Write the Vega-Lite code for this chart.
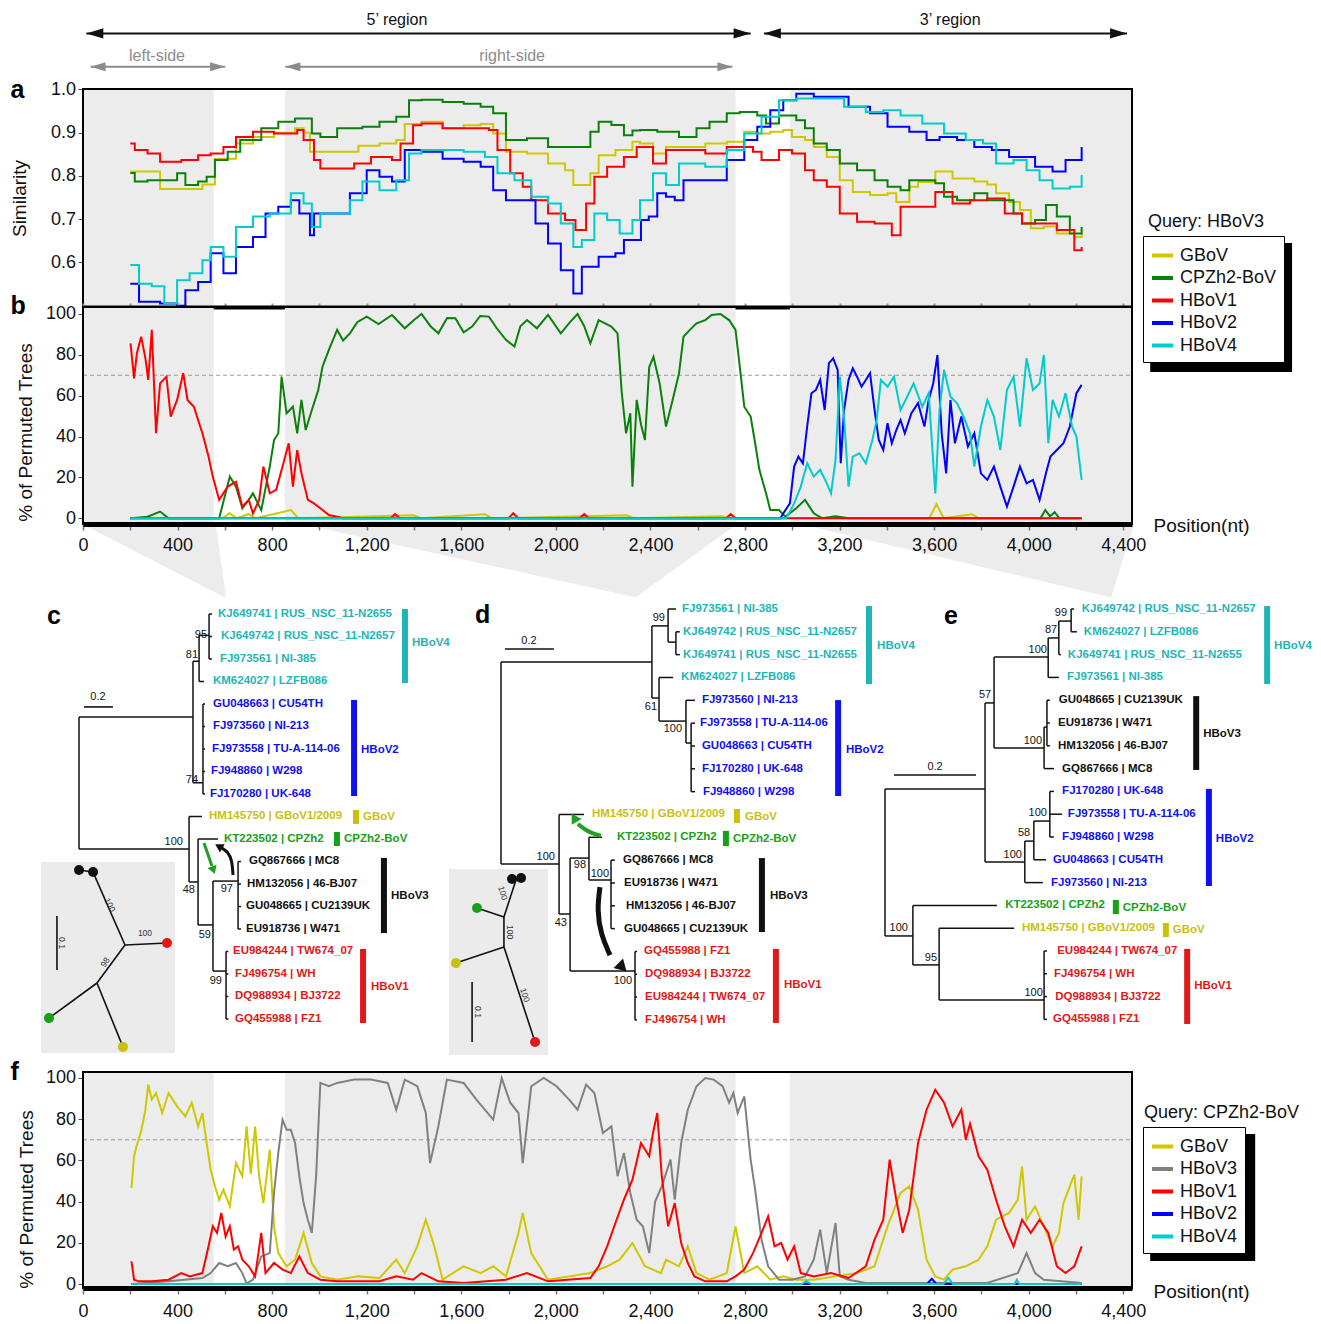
{
"$schema":"https://vega.github.io/schema/vega-lite/v6.json",
"padding":{"left":10,"top":0,"right":0,"bottom":0},
"background":"white",
"config":{"view":{"stroke":null},"font":"Liberation Sans",
 "axis":{"labelFont":"Liberation Sans","titleFont":"Liberation Sans","labelFontSize":18,"titleFontSize":19,"titleFontWeight":"normal","labelColor":"#111","titleColor":"#111","grid":false,"labelFlush":false,"labelOverlap":false,"labelBound":false},
 "legend":{"labelFont":"Liberation Sans"}},
"datasets":{
"bands":[{"p":0,"p2":553},{"p":854,"p2":2760},{"p":2990,"p2":4437}],
"frame":[{"p":0,"p2":4437}],
"minorA":[{"v":0.52},{"v":0.54},{"v":0.56},{"v":0.58},{"v":0.6},{"v":0.62},{"v":0.64},{"v":0.66},{"v":0.68},{"v":0.7},{"v":0.72},{"v":0.74},{"v":0.76},{"v":0.78},{"v":0.8},{"v":0.82},{"v":0.84},{"v":0.86},{"v":0.88},{"v":0.9},{"v":0.92},{"v":0.94},{"v":0.96},{"v":0.98},{"v":1.0}],
"minorP":[{"v":0},{"v":4},{"v":8},{"v":12},{"v":16},{"v":20},{"v":24},{"v":28},{"v":32},{"v":36},{"v":40},{"v":44},{"v":48},{"v":52},{"v":56},{"v":60},{"v":64},{"v":68},{"v":72},{"v":76},{"v":80},{"v":84},{"v":88},{"v":92},{"v":96},{"v":100}],
"sim":[
{"p":200,"s":"GBoV","v":0.81},{"p":326,"s":"GBoV","v":0.77},{"p":416,"s":"GBoV","v":0.77},{"p":505,"s":"GBoV","v":0.78},{"p":558,"s":"GBoV","v":0.84},{"p":647,"s":"GBoV","v":0.875},{"p":719,"s":"GBoV","v":0.89},{"p":808,"s":"GBoV","v":0.9},{"p":897,"s":"GBoV","v":0.91},{"p":933,"s":"GBoV","v":0.9},{"p":960,"s":"GBoV","v":0.856},{"p":1075,"s":"GBoV","v":0.856},{"p":1165,"s":"GBoV","v":0.87},{"p":1254,"s":"GBoV","v":0.875},{"p":1325,"s":"GBoV","v":0.883},{"p":1361,"s":"GBoV","v":0.92},{"p":1432,"s":"GBoV","v":0.925},{"p":1521,"s":"GBoV","v":0.91},{"p":1610,"s":"GBoV","v":0.917},{"p":1682,"s":"GBoV","v":0.92},{"p":1735,"s":"GBoV","v":0.898},{"p":1789,"s":"GBoV","v":0.856},{"p":1878,"s":"GBoV","v":0.852},{"p":1967,"s":"GBoV","v":0.829},{"p":2039,"s":"GBoV","v":0.813},{"p":2074,"s":"GBoV","v":0.779},{"p":2146,"s":"GBoV","v":0.806},{"p":2181,"s":"GBoV","v":0.848},{"p":2252,"s":"GBoV","v":0.86},{"p":2324,"s":"GBoV","v":0.879},{"p":2356,"s":"GBoV","v":0.875},{"p":2411,"s":"GBoV","v":0.852},{"p":2466,"s":"GBoV","v":0.867},{"p":2540,"s":"GBoV","v":0.867},{"p":2632,"s":"GBoV","v":0.875},{"p":2723,"s":"GBoV","v":0.879},{"p":2797,"s":"GBoV","v":0.902},{"p":2852,"s":"GBoV","v":0.898},{"p":2907,"s":"GBoV","v":0.902},{"p":2962,"s":"GBoV","v":0.906},{"p":2999,"s":"GBoV","v":0.89},{"p":3054,"s":"GBoV","v":0.883},{"p":3091,"s":"GBoV","v":0.867},{"p":3146,"s":"GBoV","v":0.844},{"p":3201,"s":"GBoV","v":0.79},{"p":3256,"s":"GBoV","v":0.763},{"p":3329,"s":"GBoV","v":0.756},{"p":3403,"s":"GBoV","v":0.76},{"p":3440,"s":"GBoV","v":0.74},{"p":3495,"s":"GBoV","v":0.775},{"p":3532,"s":"GBoV","v":0.786},{"p":3605,"s":"GBoV","v":0.81},{"p":3678,"s":"GBoV","v":0.794},{"p":3770,"s":"GBoV","v":0.787},{"p":3825,"s":"GBoV","v":0.78},{"p":3862,"s":"GBoV","v":0.76},{"p":3917,"s":"GBoV","v":0.74},{"p":3963,"s":"GBoV","v":0.721},{"p":4009,"s":"GBoV","v":0.679},{"p":4064,"s":"GBoV","v":0.683},{"p":4119,"s":"GBoV","v":0.667},{"p":4193,"s":"GBoV","v":0.659},{"p":4224,"s":"GBoV","v":0.667},
{"p":200,"s":"CPZh2-BoV","v":0.807},{"p":219,"s":"CPZh2-BoV","v":0.787},{"p":273,"s":"CPZh2-BoV","v":0.79},{"p":326,"s":"CPZh2-BoV","v":0.79},{"p":398,"s":"CPZh2-BoV","v":0.806},{"p":433,"s":"CPZh2-BoV","v":0.779},{"p":487,"s":"CPZh2-BoV","v":0.787},{"p":523,"s":"CPZh2-BoV","v":0.798},{"p":558,"s":"CPZh2-BoV","v":0.837},{"p":612,"s":"CPZh2-BoV","v":0.856},{"p":665,"s":"CPZh2-BoV","v":0.883},{"p":754,"s":"CPZh2-BoV","v":0.91},{"p":826,"s":"CPZh2-BoV","v":0.925},{"p":897,"s":"CPZh2-BoV","v":0.933},{"p":933,"s":"CPZh2-BoV","v":0.933},{"p":968,"s":"CPZh2-BoV","v":0.898},{"p":1004,"s":"CPZh2-BoV","v":0.89},{"p":1075,"s":"CPZh2-BoV","v":0.91},{"p":1182,"s":"CPZh2-BoV","v":0.914},{"p":1254,"s":"CPZh2-BoV","v":0.925},{"p":1325,"s":"CPZh2-BoV","v":0.937},{"p":1379,"s":"CPZh2-BoV","v":0.975},{"p":1432,"s":"CPZh2-BoV","v":0.976},{"p":1521,"s":"CPZh2-BoV","v":0.971},{"p":1610,"s":"CPZh2-BoV","v":0.967},{"p":1682,"s":"CPZh2-BoV","v":0.96},{"p":1735,"s":"CPZh2-BoV","v":0.945},{"p":1789,"s":"CPZh2-BoV","v":0.883},{"p":1878,"s":"CPZh2-BoV","v":0.887},{"p":1967,"s":"CPZh2-BoV","v":0.867},{"p":2092,"s":"CPZh2-BoV","v":0.867},{"p":2146,"s":"CPZh2-BoV","v":0.902},{"p":2181,"s":"CPZh2-BoV","v":0.925},{"p":2235,"s":"CPZh2-BoV","v":0.918},{"p":2288,"s":"CPZh2-BoV","v":0.894},{"p":2324,"s":"CPZh2-BoV","v":0.905},{"p":2356,"s":"CPZh2-BoV","v":0.906},{"p":2429,"s":"CPZh2-BoV","v":0.902},{"p":2521,"s":"CPZh2-BoV","v":0.89},{"p":2595,"s":"CPZh2-BoV","v":0.91},{"p":2650,"s":"CPZh2-BoV","v":0.925},{"p":2723,"s":"CPZh2-BoV","v":0.945},{"p":2778,"s":"CPZh2-BoV","v":0.948},{"p":2852,"s":"CPZh2-BoV","v":0.94},{"p":2889,"s":"CPZh2-BoV","v":0.921},{"p":2944,"s":"CPZh2-BoV","v":0.94},{"p":3017,"s":"CPZh2-BoV","v":0.929},{"p":3054,"s":"CPZh2-BoV","v":0.91},{"p":3091,"s":"CPZh2-BoV","v":0.875},{"p":3146,"s":"CPZh2-BoV","v":0.86},{"p":3201,"s":"CPZh2-BoV","v":0.829},{"p":3274,"s":"CPZh2-BoV","v":0.813},{"p":3348,"s":"CPZh2-BoV","v":0.79},{"p":3403,"s":"CPZh2-BoV","v":0.775},{"p":3458,"s":"CPZh2-BoV","v":0.767},{"p":3495,"s":"CPZh2-BoV","v":0.79},{"p":3550,"s":"CPZh2-BoV","v":0.79},{"p":3605,"s":"CPZh2-BoV","v":0.783},{"p":3642,"s":"CPZh2-BoV","v":0.752},{"p":3697,"s":"CPZh2-BoV","v":0.744},{"p":3770,"s":"CPZh2-BoV","v":0.76},{"p":3825,"s":"CPZh2-BoV","v":0.744},{"p":3880,"s":"CPZh2-BoV","v":0.744},{"p":3936,"s":"CPZh2-BoV","v":0.713},{"p":3972,"s":"CPZh2-BoV","v":0.69},{"p":4027,"s":"CPZh2-BoV","v":0.698},{"p":4073,"s":"CPZh2-BoV","v":0.733},{"p":4119,"s":"CPZh2-BoV","v":0.706},{"p":4174,"s":"CPZh2-BoV","v":0.667},{"p":4224,"s":"CPZh2-BoV","v":0.682},
{"p":200,"s":"HBoV1","v":0.875},{"p":219,"s":"HBoV1","v":0.86},{"p":273,"s":"HBoV1","v":0.852},{"p":326,"s":"HBoV1","v":0.833},{"p":416,"s":"HBoV1","v":0.837},{"p":487,"s":"HBoV1","v":0.848},{"p":540,"s":"HBoV1","v":0.852},{"p":594,"s":"HBoV1","v":0.867},{"p":647,"s":"HBoV1","v":0.89},{"p":719,"s":"HBoV1","v":0.902},{"p":808,"s":"HBoV1","v":0.898},{"p":906,"s":"HBoV1","v":0.906},{"p":933,"s":"HBoV1","v":0.883},{"p":977,"s":"HBoV1","v":0.837},{"p":1004,"s":"HBoV1","v":0.817},{"p":1075,"s":"HBoV1","v":0.817},{"p":1147,"s":"HBoV1","v":0.829},{"p":1218,"s":"HBoV1","v":0.844},{"p":1307,"s":"HBoV1","v":0.837},{"p":1343,"s":"HBoV1","v":0.875},{"p":1396,"s":"HBoV1","v":0.917},{"p":1432,"s":"HBoV1","v":0.921},{"p":1521,"s":"HBoV1","v":0.91},{"p":1610,"s":"HBoV1","v":0.91},{"p":1717,"s":"HBoV1","v":0.906},{"p":1753,"s":"HBoV1","v":0.86},{"p":1807,"s":"HBoV1","v":0.806},{"p":1860,"s":"HBoV1","v":0.775},{"p":1896,"s":"HBoV1","v":0.744},{"p":1967,"s":"HBoV1","v":0.713},{"p":2039,"s":"HBoV1","v":0.698},{"p":2083,"s":"HBoV1","v":0.675},{"p":2128,"s":"HBoV1","v":0.736},{"p":2163,"s":"HBoV1","v":0.798},{"p":2217,"s":"HBoV1","v":0.821},{"p":2288,"s":"HBoV1","v":0.844},{"p":2342,"s":"HBoV1","v":0.867},{"p":2411,"s":"HBoV1","v":0.829},{"p":2466,"s":"HBoV1","v":0.86},{"p":2540,"s":"HBoV1","v":0.86},{"p":2632,"s":"HBoV1","v":0.852},{"p":2723,"s":"HBoV1","v":0.867},{"p":2797,"s":"HBoV1","v":0.867},{"p":2834,"s":"HBoV1","v":0.856},{"p":2870,"s":"HBoV1","v":0.837},{"p":2944,"s":"HBoV1","v":0.86},{"p":2999,"s":"HBoV1","v":0.852},{"p":3054,"s":"HBoV1","v":0.813},{"p":3091,"s":"HBoV1","v":0.79},{"p":3146,"s":"HBoV1","v":0.775},{"p":3201,"s":"HBoV1","v":0.713},{"p":3274,"s":"HBoV1","v":0.694},{"p":3348,"s":"HBoV1","v":0.69},{"p":3421,"s":"HBoV1","v":0.663},{"p":3458,"s":"HBoV1","v":0.729},{"p":3532,"s":"HBoV1","v":0.729},{"p":3605,"s":"HBoV1","v":0.763},{"p":3678,"s":"HBoV1","v":0.736},{"p":3752,"s":"HBoV1","v":0.744},{"p":3825,"s":"HBoV1","v":0.748},{"p":3899,"s":"HBoV1","v":0.713},{"p":3972,"s":"HBoV1","v":0.69},{"p":4046,"s":"HBoV1","v":0.69},{"p":4119,"s":"HBoV1","v":0.675},{"p":4193,"s":"HBoV1","v":0.628},{"p":4224,"s":"HBoV1","v":0.636},
{"p":200,"s":"HBoV2","v":0.551},{"p":237,"s":"HBoV2","v":0.509},{"p":291,"s":"HBoV2","v":0.509},{"p":326,"s":"HBoV2","v":0.505},{"p":398,"s":"HBoV2","v":0.5},{"p":433,"s":"HBoV2","v":0.536},{"p":487,"s":"HBoV2","v":0.555},{"p":540,"s":"HBoV2","v":0.621},{"p":576,"s":"HBoV2","v":0.621},{"p":594,"s":"HBoV2","v":0.575},{"p":647,"s":"HBoV2","v":0.636},{"p":719,"s":"HBoV2","v":0.659},{"p":772,"s":"HBoV2","v":0.713},{"p":826,"s":"HBoV2","v":0.729},{"p":879,"s":"HBoV2","v":0.744},{"p":915,"s":"HBoV2","v":0.713},{"p":960,"s":"HBoV2","v":0.663},{"p":977,"s":"HBoV2","v":0.713},{"p":1040,"s":"HBoV2","v":0.713},{"p":1093,"s":"HBoV2","v":0.713},{"p":1129,"s":"HBoV2","v":0.76},{"p":1200,"s":"HBoV2","v":0.813},{"p":1254,"s":"HBoV2","v":0.798},{"p":1307,"s":"HBoV2","v":0.787},{"p":1361,"s":"HBoV2","v":0.86},{"p":1432,"s":"HBoV2","v":0.856},{"p":1521,"s":"HBoV2","v":0.84},{"p":1610,"s":"HBoV2","v":0.833},{"p":1682,"s":"HBoV2","v":0.821},{"p":1735,"s":"HBoV2","v":0.767},{"p":1789,"s":"HBoV2","v":0.744},{"p":1860,"s":"HBoV2","v":0.744},{"p":1914,"s":"HBoV2","v":0.69},{"p":1967,"s":"HBoV2","v":0.644},{"p":2021,"s":"HBoV2","v":0.582},{"p":2074,"s":"HBoV2","v":0.528},{"p":2110,"s":"HBoV2","v":0.59},{"p":2181,"s":"HBoV2","v":0.613},{"p":2252,"s":"HBoV2","v":0.621},{"p":2288,"s":"HBoV2","v":0.652},{"p":2360,"s":"HBoV2","v":0.698},{"p":2393,"s":"HBoV2","v":0.706},{"p":2429,"s":"HBoV2","v":0.76},{"p":2466,"s":"HBoV2","v":0.752},{"p":2503,"s":"HBoV2","v":0.744},{"p":2540,"s":"HBoV2","v":0.79},{"p":2632,"s":"HBoV2","v":0.79},{"p":2723,"s":"HBoV2","v":0.837},{"p":2797,"s":"HBoV2","v":0.883},{"p":2852,"s":"HBoV2","v":0.914},{"p":2907,"s":"HBoV2","v":0.952},{"p":2962,"s":"HBoV2","v":0.975},{"p":3017,"s":"HBoV2","v":0.99},{"p":3091,"s":"HBoV2","v":0.983},{"p":3183,"s":"HBoV2","v":0.983},{"p":3238,"s":"HBoV2","v":0.96},{"p":3329,"s":"HBoV2","v":0.945},{"p":3403,"s":"HBoV2","v":0.914},{"p":3495,"s":"HBoV2","v":0.902},{"p":3568,"s":"HBoV2","v":0.883},{"p":3623,"s":"HBoV2","v":0.89},{"p":3697,"s":"HBoV2","v":0.883},{"p":3770,"s":"HBoV2","v":0.867},{"p":3844,"s":"HBoV2","v":0.86},{"p":3917,"s":"HBoV2","v":0.844},{"p":3972,"s":"HBoV2","v":0.844},{"p":4027,"s":"HBoV2","v":0.821},{"p":4101,"s":"HBoV2","v":0.81},{"p":4156,"s":"HBoV2","v":0.837},{"p":4224,"s":"HBoV2","v":0.867},
{"p":200,"s":"HBoV4","v":0.594},{"p":237,"s":"HBoV4","v":0.551},{"p":291,"s":"HBoV4","v":0.545},{"p":344,"s":"HBoV4","v":0.505},{"p":398,"s":"HBoV4","v":0.559},{"p":451,"s":"HBoV4","v":0.575},{"p":505,"s":"HBoV4","v":0.605},{"p":540,"s":"HBoV4","v":0.636},{"p":594,"s":"HBoV4","v":0.613},{"p":647,"s":"HBoV4","v":0.682},{"p":719,"s":"HBoV4","v":0.706},{"p":790,"s":"HBoV4","v":0.713},{"p":879,"s":"HBoV4","v":0.76},{"p":933,"s":"HBoV4","v":0.736},{"p":968,"s":"HBoV4","v":0.682},{"p":1004,"s":"HBoV4","v":0.713},{"p":1075,"s":"HBoV4","v":0.713},{"p":1129,"s":"HBoV4","v":0.744},{"p":1182,"s":"HBoV4","v":0.787},{"p":1254,"s":"HBoV4","v":0.767},{"p":1325,"s":"HBoV4","v":0.79},{"p":1379,"s":"HBoV4","v":0.852},{"p":1432,"s":"HBoV4","v":0.86},{"p":1521,"s":"HBoV4","v":0.86},{"p":1610,"s":"HBoV4","v":0.856},{"p":1700,"s":"HBoV4","v":0.844},{"p":1753,"s":"HBoV4","v":0.806},{"p":1825,"s":"HBoV4","v":0.79},{"p":1896,"s":"HBoV4","v":0.752},{"p":1967,"s":"HBoV4","v":0.736},{"p":2021,"s":"HBoV4","v":0.69},{"p":2074,"s":"HBoV4","v":0.636},{"p":2110,"s":"HBoV4","v":0.652},{"p":2163,"s":"HBoV4","v":0.713},{"p":2217,"s":"HBoV4","v":0.698},{"p":2270,"s":"HBoV4","v":0.667},{"p":2324,"s":"HBoV4","v":0.698},{"p":2356,"s":"HBoV4","v":0.744},{"p":2411,"s":"HBoV4","v":0.806},{"p":2466,"s":"HBoV4","v":0.779},{"p":2521,"s":"HBoV4","v":0.829},{"p":2632,"s":"HBoV4","v":0.821},{"p":2723,"s":"HBoV4","v":0.86},{"p":2797,"s":"HBoV4","v":0.898},{"p":2870,"s":"HBoV4","v":0.937},{"p":2944,"s":"HBoV4","v":0.975},{"p":3017,"s":"HBoV4","v":0.979},{"p":3127,"s":"HBoV4","v":0.979},{"p":3219,"s":"HBoV4","v":0.96},{"p":3311,"s":"HBoV4","v":0.948},{"p":3385,"s":"HBoV4","v":0.952},{"p":3458,"s":"HBoV4","v":0.94},{"p":3550,"s":"HBoV4","v":0.921},{"p":3642,"s":"HBoV4","v":0.898},{"p":3734,"s":"HBoV4","v":0.883},{"p":3807,"s":"HBoV4","v":0.875},{"p":3862,"s":"HBoV4","v":0.829},{"p":3936,"s":"HBoV4","v":0.837},{"p":3991,"s":"HBoV4","v":0.813},{"p":4046,"s":"HBoV4","v":0.79},{"p":4101,"s":"HBoV4","v":0.771},{"p":4174,"s":"HBoV4","v":0.775},{"p":4224,"s":"HBoV4","v":0.802}],
"ptb":[
{"p":200,"s":"GBoV","v":0},{"p":590,"s":"GBoV","v":0},{"p":620,"s":"GBoV","v":2.5},{"p":650,"s":"GBoV","v":0},{"p":700,"s":"GBoV","v":2},{"p":730,"s":"GBoV","v":0},{"p":880,"s":"GBoV","v":4},{"p":910,"s":"GBoV","v":0},{"p":1400,"s":"GBoV","v":1.5},{"p":1430,"s":"GBoV","v":0},{"p":1700,"s":"GBoV","v":2},{"p":1730,"s":"GBoV","v":0},{"p":2300,"s":"GBoV","v":1.5},{"p":2330,"s":"GBoV","v":0},{"p":2700,"s":"GBoV","v":1},{"p":2730,"s":"GBoV","v":0},{"p":3580,"s":"GBoV","v":0},{"p":3610,"s":"GBoV","v":7},{"p":3640,"s":"GBoV","v":0},{"p":3760,"s":"GBoV","v":2},{"p":3790,"s":"GBoV","v":0},{"p":4224,"s":"GBoV","v":0},
{"p":201,"s":"CPZh2-BoV","v":0},{"p":273,"s":"CPZh2-BoV","v":0.8},{"p":326,"s":"CPZh2-BoV","v":3.3},{"p":362,"s":"CPZh2-BoV","v":0},{"p":576,"s":"CPZh2-BoV","v":0},{"p":621,"s":"CPZh2-BoV","v":20.4},{"p":647,"s":"CPZh2-BoV","v":15.5},{"p":674,"s":"CPZh2-BoV","v":4.9},{"p":701,"s":"CPZh2-BoV","v":9},{"p":719,"s":"CPZh2-BoV","v":12.2},{"p":754,"s":"CPZh2-BoV","v":4},{"p":790,"s":"CPZh2-BoV","v":25.3},{"p":808,"s":"CPZh2-BoV","v":38.3},{"p":826,"s":"CPZh2-BoV","v":41.6},{"p":840,"s":"CPZh2-BoV","v":69.3},{"p":861,"s":"CPZh2-BoV","v":51.4},{"p":888,"s":"CPZh2-BoV","v":54.6},{"p":906,"s":"CPZh2-BoV","v":41.6},{"p":924,"s":"CPZh2-BoV","v":57.9},{"p":942,"s":"CPZh2-BoV","v":43.2},{"p":968,"s":"CPZh2-BoV","v":53},{"p":995,"s":"CPZh2-BoV","v":62.8},{"p":1013,"s":"CPZh2-BoV","v":74.2},{"p":1040,"s":"CPZh2-BoV","v":82.4},{"p":1075,"s":"CPZh2-BoV","v":92.2},{"p":1100,"s":"CPZh2-BoV","v":87},{"p":1129,"s":"CPZh2-BoV","v":90.5},{"p":1160,"s":"CPZh2-BoV","v":96},{"p":1200,"s":"CPZh2-BoV","v":98.7},{"p":1250,"s":"CPZh2-BoV","v":95},{"p":1307,"s":"CPZh2-BoV","v":99.5},{"p":1361,"s":"CPZh2-BoV","v":93},{"p":1400,"s":"CPZh2-BoV","v":97},{"p":1432,"s":"CPZh2-BoV","v":100},{"p":1470,"s":"CPZh2-BoV","v":94},{"p":1503,"s":"CPZh2-BoV","v":90.5},{"p":1540,"s":"CPZh2-BoV","v":98},{"p":1575,"s":"CPZh2-BoV","v":97.9},{"p":1610,"s":"CPZh2-BoV","v":91},{"p":1646,"s":"CPZh2-BoV","v":93.8},{"p":1680,"s":"CPZh2-BoV","v":99},{"p":1717,"s":"CPZh2-BoV","v":98.7},{"p":1750,"s":"CPZh2-BoV","v":93},{"p":1789,"s":"CPZh2-BoV","v":87.3},{"p":1825,"s":"CPZh2-BoV","v":84},{"p":1850,"s":"CPZh2-BoV","v":94},{"p":1878,"s":"CPZh2-BoV","v":97},{"p":1920,"s":"CPZh2-BoV","v":93},{"p":1967,"s":"CPZh2-BoV","v":99.5},{"p":2021,"s":"CPZh2-BoV","v":90.5},{"p":2060,"s":"CPZh2-BoV","v":96},{"p":2092,"s":"CPZh2-BoV","v":100},{"p":2120,"s":"CPZh2-BoV","v":94},{"p":2146,"s":"CPZh2-BoV","v":85.6},{"p":2181,"s":"CPZh2-BoV","v":97},{"p":2235,"s":"CPZh2-BoV","v":93.8},{"p":2261,"s":"CPZh2-BoV","v":90.5},{"p":2279,"s":"CPZh2-BoV","v":61.2},{"p":2297,"s":"CPZh2-BoV","v":41.6},{"p":2315,"s":"CPZh2-BoV","v":51.4},{"p":2324,"s":"CPZh2-BoV","v":15.5},{"p":2342,"s":"CPZh2-BoV","v":57.9},{"p":2360,"s":"CPZh2-BoV","v":46},{"p":2377,"s":"CPZh2-BoV","v":38.3},{"p":2395,"s":"CPZh2-BoV","v":74},{"p":2413,"s":"CPZh2-BoV","v":79},{"p":2439,"s":"CPZh2-BoV","v":66},{"p":2466,"s":"CPZh2-BoV","v":44.9},{"p":2494,"s":"CPZh2-BoV","v":57.9},{"p":2521,"s":"CPZh2-BoV","v":71},{"p":2540,"s":"CPZh2-BoV","v":88.9},{"p":2567,"s":"CPZh2-BoV","v":92.2},{"p":2595,"s":"CPZh2-BoV","v":95.4},{"p":2632,"s":"CPZh2-BoV","v":97},{"p":2659,"s":"CPZh2-BoV","v":99.5},{"p":2696,"s":"CPZh2-BoV","v":100},{"p":2733,"s":"CPZh2-BoV","v":97},{"p":2760,"s":"CPZh2-BoV","v":92.2},{"p":2778,"s":"CPZh2-BoV","v":74.2},{"p":2797,"s":"CPZh2-BoV","v":54.6},{"p":2824,"s":"CPZh2-BoV","v":49.8},{"p":2843,"s":"CPZh2-BoV","v":36.7},{"p":2861,"s":"CPZh2-BoV","v":23.7},{"p":2889,"s":"CPZh2-BoV","v":12.2},{"p":2907,"s":"CPZh2-BoV","v":4},{"p":2944,"s":"CPZh2-BoV","v":4},{"p":2971,"s":"CPZh2-BoV","v":0.8},{"p":3017,"s":"CPZh2-BoV","v":4.9},{"p":3054,"s":"CPZh2-BoV","v":9},{"p":3091,"s":"CPZh2-BoV","v":2.4},{"p":3127,"s":"CPZh2-BoV","v":0},{"p":3183,"s":"CPZh2-BoV","v":1},{"p":3238,"s":"CPZh2-BoV","v":0},{"p":4050,"s":"CPZh2-BoV","v":0},{"p":4070,"s":"CPZh2-BoV","v":4},{"p":4090,"s":"CPZh2-BoV","v":1},{"p":4110,"s":"CPZh2-BoV","v":3},{"p":4130,"s":"CPZh2-BoV","v":0},{"p":4224,"s":"CPZh2-BoV","v":0},
{"p":201,"s":"HBoV1","v":85.6},{"p":216,"s":"HBoV1","v":68.5},{"p":228,"s":"HBoV1","v":80.8},{"p":246,"s":"HBoV1","v":88.9},{"p":264,"s":"HBoV1","v":78.3},{"p":276,"s":"HBoV1","v":67.7},{"p":291,"s":"HBoV1","v":92.2},{"p":309,"s":"HBoV1","v":41.6},{"p":326,"s":"HBoV1","v":66},{"p":353,"s":"HBoV1","v":69.3},{"p":371,"s":"HBoV1","v":49.8},{"p":398,"s":"HBoV1","v":57.9},{"p":424,"s":"HBoV1","v":71},{"p":442,"s":"HBoV1","v":57.9},{"p":469,"s":"HBoV1","v":54.6},{"p":505,"s":"HBoV1","v":41.6},{"p":531,"s":"HBoV1","v":30.2},{"p":549,"s":"HBoV1","v":20.4},{"p":576,"s":"HBoV1","v":9},{"p":612,"s":"HBoV1","v":15.5},{"p":647,"s":"HBoV1","v":17.9},{"p":674,"s":"HBoV1","v":5.7},{"p":701,"s":"HBoV1","v":9},{"p":719,"s":"HBoV1","v":2.4},{"p":745,"s":"HBoV1","v":9},{"p":763,"s":"HBoV1","v":25.3},{"p":790,"s":"HBoV1","v":12.2},{"p":817,"s":"HBoV1","v":13.9},{"p":844,"s":"HBoV1","v":25.3},{"p":870,"s":"HBoV1","v":36.7},{"p":888,"s":"HBoV1","v":15.5},{"p":906,"s":"HBoV1","v":33.4},{"p":924,"s":"HBoV1","v":22},{"p":951,"s":"HBoV1","v":9},{"p":977,"s":"HBoV1","v":7.3},{"p":1004,"s":"HBoV1","v":4.9},{"p":1040,"s":"HBoV1","v":1.6},{"p":1075,"s":"HBoV1","v":0.8},{"p":1100,"s":"HBoV1","v":0},{"p":1300,"s":"HBoV1","v":0},{"p":1320,"s":"HBoV1","v":2},{"p":1340,"s":"HBoV1","v":0},{"p":1800,"s":"HBoV1","v":0},{"p":1820,"s":"HBoV1","v":2.5},{"p":1840,"s":"HBoV1","v":0},{"p":2100,"s":"HBoV1","v":0},{"p":2120,"s":"HBoV1","v":2},{"p":2140,"s":"HBoV1","v":0},{"p":2720,"s":"HBoV1","v":0},{"p":2740,"s":"HBoV1","v":2},{"p":2760,"s":"HBoV1","v":0},{"p":4224,"s":"HBoV1","v":0},
{"p":200,"s":"HBoV2","v":0},{"p":2950,"s":"HBoV2","v":0},{"p":2962,"s":"HBoV2","v":2.4},{"p":2990,"s":"HBoV2","v":7.3},{"p":3008,"s":"HBoV2","v":25.3},{"p":3026,"s":"HBoV2","v":30.2},{"p":3045,"s":"HBoV2","v":26.9},{"p":3063,"s":"HBoV2","v":44.9},{"p":3081,"s":"HBoV2","v":61.2},{"p":3100,"s":"HBoV2","v":62.8},{"p":3118,"s":"HBoV2","v":67.7},{"p":3137,"s":"HBoV2","v":53},{"p":3155,"s":"HBoV2","v":75.9},{"p":3173,"s":"HBoV2","v":78.3},{"p":3192,"s":"HBoV2","v":72.6},{"p":3205,"s":"HBoV2","v":26.9},{"p":3219,"s":"HBoV2","v":53},{"p":3238,"s":"HBoV2","v":67.7},{"p":3256,"s":"HBoV2","v":73.4},{"p":3274,"s":"HBoV2","v":69.3},{"p":3293,"s":"HBoV2","v":64.4},{"p":3311,"s":"HBoV2","v":67.7},{"p":3329,"s":"HBoV2","v":71},{"p":3348,"s":"HBoV2","v":53},{"p":3366,"s":"HBoV2","v":38.3},{"p":3385,"s":"HBoV2","v":33.4},{"p":3403,"s":"HBoV2","v":46.5},{"p":3421,"s":"HBoV2","v":36.7},{"p":3440,"s":"HBoV2","v":43.2},{"p":3458,"s":"HBoV2","v":48.1},{"p":3476,"s":"HBoV2","v":41.6},{"p":3504,"s":"HBoV2","v":51.4},{"p":3532,"s":"HBoV2","v":56.3},{"p":3559,"s":"HBoV2","v":44.9},{"p":3577,"s":"HBoV2","v":57.9},{"p":3596,"s":"HBoV2","v":66},{"p":3614,"s":"HBoV2","v":79.9},{"p":3632,"s":"HBoV2","v":41.6},{"p":3651,"s":"HBoV2","v":22},{"p":3669,"s":"HBoV2","v":57.9},{"p":3688,"s":"HBoV2","v":36.7},{"p":3715,"s":"HBoV2","v":49.8},{"p":3743,"s":"HBoV2","v":35.1},{"p":3770,"s":"HBoV2","v":41.6},{"p":3798,"s":"HBoV2","v":22},{"p":3825,"s":"HBoV2","v":18.8},{"p":3853,"s":"HBoV2","v":25.3},{"p":3880,"s":"HBoV2","v":15.5},{"p":3908,"s":"HBoV2","v":5.7},{"p":3936,"s":"HBoV2","v":15.5},{"p":3963,"s":"HBoV2","v":25.3},{"p":3991,"s":"HBoV2","v":17.1},{"p":4018,"s":"HBoV2","v":18.8},{"p":4046,"s":"HBoV2","v":9},{"p":4073,"s":"HBoV2","v":22},{"p":4092,"s":"HBoV2","v":30.2},{"p":4119,"s":"HBoV2","v":33.4},{"p":4147,"s":"HBoV2","v":36.7},{"p":4174,"s":"HBoV2","v":44.9},{"p":4202,"s":"HBoV2","v":61.2},{"p":4224,"s":"HBoV2","v":65.3},
{"p":200,"s":"HBoV4","v":0},{"p":2975,"s":"HBoV4","v":0},{"p":3008,"s":"HBoV4","v":7.3},{"p":3036,"s":"HBoV4","v":15.5},{"p":3063,"s":"HBoV4","v":26.9},{"p":3091,"s":"HBoV4","v":20.4},{"p":3118,"s":"HBoV4","v":23.7},{"p":3146,"s":"HBoV4","v":17.1},{"p":3164,"s":"HBoV4","v":12.2},{"p":3183,"s":"HBoV4","v":28.5},{"p":3201,"s":"HBoV4","v":69.3},{"p":3219,"s":"HBoV4","v":49.8},{"p":3238,"s":"HBoV4","v":15.5},{"p":3256,"s":"HBoV4","v":30.2},{"p":3284,"s":"HBoV4","v":31.8},{"p":3311,"s":"HBoV4","v":26.9},{"p":3339,"s":"HBoV4","v":38.3},{"p":3357,"s":"HBoV4","v":48.1},{"p":3375,"s":"HBoV4","v":67.7},{"p":3403,"s":"HBoV4","v":64.4},{"p":3430,"s":"HBoV4","v":69.3},{"p":3458,"s":"HBoV4","v":53},{"p":3486,"s":"HBoV4","v":59.5},{"p":3513,"s":"HBoV4","v":66},{"p":3550,"s":"HBoV4","v":54.6},{"p":3577,"s":"HBoV4","v":61.2},{"p":3605,"s":"HBoV4","v":12.2},{"p":3623,"s":"HBoV4","v":53},{"p":3642,"s":"HBoV4","v":72.6},{"p":3669,"s":"HBoV4","v":59.5},{"p":3697,"s":"HBoV4","v":56.3},{"p":3724,"s":"HBoV4","v":49.8},{"p":3752,"s":"HBoV4","v":41.6},{"p":3770,"s":"HBoV4","v":25.3},{"p":3798,"s":"HBoV4","v":44.9},{"p":3825,"s":"HBoV4","v":57.9},{"p":3853,"s":"HBoV4","v":49.8},{"p":3880,"s":"HBoV4","v":33.4},{"p":3908,"s":"HBoV4","v":62.8},{"p":3936,"s":"HBoV4","v":69.3},{"p":3963,"s":"HBoV4","v":44.9},{"p":3991,"s":"HBoV4","v":78.3},{"p":4018,"s":"HBoV4","v":62.8},{"p":4046,"s":"HBoV4","v":66},{"p":4064,"s":"HBoV4","v":79.9},{"p":4083,"s":"HBoV4","v":36.7},{"p":4101,"s":"HBoV4","v":57.9},{"p":4128,"s":"HBoV4","v":49.8},{"p":4156,"s":"HBoV4","v":61.2},{"p":4183,"s":"HBoV4","v":44.9},{"p":4202,"s":"HBoV4","v":40},{"p":4224,"s":"HBoV4","v":18.8}],
"ptf":[
{"p":205,"s":"GBoV","v":46.6},{"p":216,"s":"GBoV","v":62},{"p":228,"s":"GBoV","v":67.6},{"p":246,"s":"GBoV","v":74.1},{"p":264,"s":"GBoV","v":84.6},{"p":276,"s":"GBoV","v":96.8},{"p":291,"s":"GBoV","v":89.5},{"p":309,"s":"GBoV","v":92.7},{"p":335,"s":"GBoV","v":83},{"p":362,"s":"GBoV","v":92.7},{"p":398,"s":"GBoV","v":86.2},{"p":433,"s":"GBoV","v":81.4},{"p":460,"s":"GBoV","v":88},{"p":487,"s":"GBoV","v":76.5},{"p":505,"s":"GBoV","v":83},{"p":523,"s":"GBoV","v":68.4},{"p":540,"s":"GBoV","v":55.5},{"p":558,"s":"GBoV","v":47.4},{"p":576,"s":"GBoV","v":40.9},{"p":594,"s":"GBoV","v":45.8},{"p":621,"s":"GBoV","v":37.7},{"p":647,"s":"GBoV","v":58.7},{"p":674,"s":"GBoV","v":52.3},{"p":692,"s":"GBoV","v":76.5},{"p":710,"s":"GBoV","v":53.4},{"p":728,"s":"GBoV","v":76.5},{"p":745,"s":"GBoV","v":52.3},{"p":763,"s":"GBoV","v":39.3},{"p":790,"s":"GBoV","v":65.2},{"p":808,"s":"GBoV","v":28},{"p":826,"s":"GBoV","v":15},{"p":861,"s":"GBoV","v":8.6},{"p":897,"s":"GBoV","v":11.8},{"p":933,"s":"GBoV","v":24.8},{"p":968,"s":"GBoV","v":10.2},{"p":1004,"s":"GBoV","v":3.7},{"p":1075,"s":"GBoV","v":2.1},{"p":1165,"s":"GBoV","v":3.7},{"p":1254,"s":"GBoV","v":2.9},{"p":1325,"s":"GBoV","v":11.8},{"p":1361,"s":"GBoV","v":5.3},{"p":1414,"s":"GBoV","v":18.3},{"p":1450,"s":"GBoV","v":31.2},{"p":1486,"s":"GBoV","v":18.3},{"p":1521,"s":"GBoV","v":2.1},{"p":1610,"s":"GBoV","v":8.6},{"p":1682,"s":"GBoV","v":5.3},{"p":1735,"s":"GBoV","v":8.6},{"p":1789,"s":"GBoV","v":3.7},{"p":1842,"s":"GBoV","v":24.8},{"p":1860,"s":"GBoV","v":34.5},{"p":1896,"s":"GBoV","v":15},{"p":1931,"s":"GBoV","v":8.6},{"p":1967,"s":"GBoV","v":2.1},{"p":2056,"s":"GBoV","v":3.7},{"p":2146,"s":"GBoV","v":5.3},{"p":2217,"s":"GBoV","v":8.6},{"p":2270,"s":"GBoV","v":11.8},{"p":2324,"s":"GBoV","v":19.9},{"p":2377,"s":"GBoV","v":8.6},{"p":2445,"s":"GBoV","v":5.3},{"p":2466,"s":"GBoV","v":11.8},{"p":2521,"s":"GBoV","v":8.6},{"p":2558,"s":"GBoV","v":18.3},{"p":2595,"s":"GBoV","v":5.3},{"p":2650,"s":"GBoV","v":2.1},{"p":2723,"s":"GBoV","v":5.3},{"p":2760,"s":"GBoV","v":28},{"p":2797,"s":"GBoV","v":5.3},{"p":2852,"s":"GBoV","v":8.6},{"p":2907,"s":"GBoV","v":2.1},{"p":2962,"s":"GBoV","v":3.7},{"p":3017,"s":"GBoV","v":2.1},{"p":3091,"s":"GBoV","v":2.1},{"p":3183,"s":"GBoV","v":3.7},{"p":3274,"s":"GBoV","v":5.3},{"p":3348,"s":"GBoV","v":8.6},{"p":3403,"s":"GBoV","v":28},{"p":3458,"s":"GBoV","v":44.2},{"p":3495,"s":"GBoV","v":47.4},{"p":3532,"s":"GBoV","v":36.1},{"p":3568,"s":"GBoV","v":11.8},{"p":3605,"s":"GBoV","v":3.7},{"p":3642,"s":"GBoV","v":2.1},{"p":3678,"s":"GBoV","v":7},{"p":3734,"s":"GBoV","v":8.6},{"p":3788,"s":"GBoV","v":11.8},{"p":3825,"s":"GBoV","v":18.3},{"p":3862,"s":"GBoV","v":31.2},{"p":3917,"s":"GBoV","v":34.5},{"p":3954,"s":"GBoV","v":40.9},{"p":3972,"s":"GBoV","v":57.1},{"p":3991,"s":"GBoV","v":31.2},{"p":4027,"s":"GBoV","v":37.7},{"p":4064,"s":"GBoV","v":28},{"p":4101,"s":"GBoV","v":18.3},{"p":4128,"s":"GBoV","v":24.8},{"p":4147,"s":"GBoV","v":39.3},{"p":4174,"s":"GBoV","v":47.4},{"p":4193,"s":"GBoV","v":53.1},{"p":4211,"s":"GBoV","v":31.2},{"p":4224,"s":"GBoV","v":52.3},
{"p":205,"s":"HBoV3","v":0},{"p":362,"s":"HBoV3","v":1.3},{"p":505,"s":"HBoV3","v":2.9},{"p":540,"s":"HBoV3","v":5.3},{"p":576,"s":"HBoV3","v":10.2},{"p":612,"s":"HBoV3","v":8.6},{"p":647,"s":"HBoV3","v":10.2},{"p":674,"s":"HBoV3","v":5.3},{"p":692,"s":"HBoV3","v":0.2},{"p":719,"s":"HBoV3","v":2.1},{"p":754,"s":"HBoV3","v":13.4},{"p":790,"s":"HBoV3","v":15},{"p":808,"s":"HBoV3","v":44.2},{"p":826,"s":"HBoV3","v":63.6},{"p":844,"s":"HBoV3","v":79.8},{"p":861,"s":"HBoV3","v":74.9},{"p":879,"s":"HBoV3","v":74.9},{"p":897,"s":"HBoV3","v":68.4},{"p":915,"s":"HBoV3","v":52.3},{"p":933,"s":"HBoV3","v":39.3},{"p":951,"s":"HBoV3","v":31.2},{"p":968,"s":"HBoV3","v":24.8},{"p":986,"s":"HBoV3","v":52.3},{"p":1004,"s":"HBoV3","v":97.6},{"p":1040,"s":"HBoV3","v":96},{"p":1075,"s":"HBoV3","v":97.6},{"p":1147,"s":"HBoV3","v":99.2},{"p":1218,"s":"HBoV3","v":99.2},{"p":1289,"s":"HBoV3","v":97.6},{"p":1325,"s":"HBoV3","v":84.6},{"p":1361,"s":"HBoV3","v":99.2},{"p":1414,"s":"HBoV3","v":96},{"p":1450,"s":"HBoV3","v":83},{"p":1468,"s":"HBoV3","v":58.7},{"p":1503,"s":"HBoV3","v":76.5},{"p":1539,"s":"HBoV3","v":99.2},{"p":1610,"s":"HBoV3","v":97.6},{"p":1664,"s":"HBoV3","v":89.5},{"p":1735,"s":"HBoV3","v":79.8},{"p":1771,"s":"HBoV3","v":100},{"p":1807,"s":"HBoV3","v":88},{"p":1842,"s":"HBoV3","v":83},{"p":1860,"s":"HBoV3","v":58.7},{"p":1896,"s":"HBoV3","v":96},{"p":1949,"s":"HBoV3","v":100},{"p":2003,"s":"HBoV3","v":96},{"p":2056,"s":"HBoV3","v":89.5},{"p":2092,"s":"HBoV3","v":84.6},{"p":2128,"s":"HBoV3","v":96.8},{"p":2163,"s":"HBoV3","v":92.7},{"p":2199,"s":"HBoV3","v":73.3},{"p":2235,"s":"HBoV3","v":76.5},{"p":2261,"s":"HBoV3","v":52.3},{"p":2288,"s":"HBoV3","v":63.6},{"p":2315,"s":"HBoV3","v":44.2},{"p":2342,"s":"HBoV3","v":31.2},{"p":2368,"s":"HBoV3","v":28},{"p":2395,"s":"HBoV3","v":15},{"p":2420,"s":"HBoV3","v":40},{"p":2448,"s":"HBoV3","v":47.4},{"p":2485,"s":"HBoV3","v":60.4},{"p":2503,"s":"HBoV3","v":40.9},{"p":2530,"s":"HBoV3","v":68.4},{"p":2558,"s":"HBoV3","v":84.6},{"p":2595,"s":"HBoV3","v":96},{"p":2632,"s":"HBoV3","v":100},{"p":2668,"s":"HBoV3","v":99.2},{"p":2705,"s":"HBoV3","v":96},{"p":2733,"s":"HBoV3","v":88},{"p":2751,"s":"HBoV3","v":92.7},{"p":2769,"s":"HBoV3","v":83},{"p":2797,"s":"HBoV3","v":91.1},{"p":2824,"s":"HBoV3","v":60.4},{"p":2843,"s":"HBoV3","v":45.8},{"p":2870,"s":"HBoV3","v":21.5},{"p":2898,"s":"HBoV3","v":8.6},{"p":2944,"s":"HBoV3","v":2.1},{"p":2999,"s":"HBoV3","v":2.1},{"p":3054,"s":"HBoV3","v":3.7},{"p":3091,"s":"HBoV3","v":11.8},{"p":3118,"s":"HBoV3","v":26.4},{"p":3146,"s":"HBoV3","v":5.3},{"p":3183,"s":"HBoV3","v":29.6},{"p":3201,"s":"HBoV3","v":3.7},{"p":3238,"s":"HBoV3","v":2.1},{"p":3311,"s":"HBoV3","v":0.5},{"p":3825,"s":"HBoV3","v":0.5},{"p":3954,"s":"HBoV3","v":5.3},{"p":3991,"s":"HBoV3","v":15},{"p":4027,"s":"HBoV3","v":5.3},{"p":4064,"s":"HBoV3","v":2.1},{"p":4224,"s":"HBoV3","v":0.5},
{"p":205,"s":"HBoV1","v":11},{"p":216,"s":"HBoV1","v":2.1},{"p":237,"s":"HBoV1","v":1.3},{"p":291,"s":"HBoV1","v":1.3},{"p":362,"s":"HBoV1","v":2.1},{"p":416,"s":"HBoV1","v":5.3},{"p":451,"s":"HBoV1","v":3.7},{"p":505,"s":"HBoV1","v":5.3},{"p":531,"s":"HBoV1","v":18.3},{"p":549,"s":"HBoV1","v":28},{"p":567,"s":"HBoV1","v":24.8},{"p":585,"s":"HBoV1","v":34.5},{"p":603,"s":"HBoV1","v":23.1},{"p":621,"s":"HBoV1","v":28},{"p":638,"s":"HBoV1","v":16.7},{"p":656,"s":"HBoV1","v":18.3},{"p":674,"s":"HBoV1","v":11.8},{"p":701,"s":"HBoV1","v":8.6},{"p":728,"s":"HBoV1","v":3.7},{"p":754,"s":"HBoV1","v":24.8},{"p":772,"s":"HBoV1","v":5.3},{"p":808,"s":"HBoV1","v":10.2},{"p":844,"s":"HBoV1","v":7},{"p":879,"s":"HBoV1","v":5.3},{"p":915,"s":"HBoV1","v":13.4},{"p":951,"s":"HBoV1","v":5.3},{"p":1004,"s":"HBoV1","v":2.1},{"p":1075,"s":"HBoV1","v":1.3},{"p":1254,"s":"HBoV1","v":1.3},{"p":1325,"s":"HBoV1","v":3.7},{"p":1396,"s":"HBoV1","v":2.1},{"p":1432,"s":"HBoV1","v":5.3},{"p":1503,"s":"HBoV1","v":1.3},{"p":1610,"s":"HBoV1","v":0.5},{"p":1789,"s":"HBoV1","v":2.1},{"p":1878,"s":"HBoV1","v":5.3},{"p":1967,"s":"HBoV1","v":1.3},{"p":2146,"s":"HBoV1","v":2.9},{"p":2181,"s":"HBoV1","v":8.6},{"p":2217,"s":"HBoV1","v":18.3},{"p":2252,"s":"HBoV1","v":29.6},{"p":2288,"s":"HBoV1","v":40.9},{"p":2324,"s":"HBoV1","v":50.6},{"p":2360,"s":"HBoV1","v":68.4},{"p":2395,"s":"HBoV1","v":62},{"p":2411,"s":"HBoV1","v":73.3},{"p":2429,"s":"HBoV1","v":83},{"p":2448,"s":"HBoV1","v":52.3},{"p":2475,"s":"HBoV1","v":28},{"p":2503,"s":"HBoV1","v":39.3},{"p":2530,"s":"HBoV1","v":19.9},{"p":2558,"s":"HBoV1","v":10.2},{"p":2586,"s":"HBoV1","v":3.7},{"p":2632,"s":"HBoV1","v":1.3},{"p":2723,"s":"HBoV1","v":1.3},{"p":2760,"s":"HBoV1","v":3.7},{"p":2797,"s":"HBoV1","v":7},{"p":2834,"s":"HBoV1","v":15},{"p":2870,"s":"HBoV1","v":24.8},{"p":2898,"s":"HBoV1","v":32.8},{"p":2925,"s":"HBoV1","v":18.3},{"p":2953,"s":"HBoV1","v":19.9},{"p":2980,"s":"HBoV1","v":11.8},{"p":3008,"s":"HBoV1","v":18.3},{"p":3036,"s":"HBoV1","v":5.3},{"p":3091,"s":"HBoV1","v":3.7},{"p":3164,"s":"HBoV1","v":5.3},{"p":3238,"s":"HBoV1","v":2.9},{"p":3311,"s":"HBoV1","v":8.6},{"p":3348,"s":"HBoV1","v":21.5},{"p":3385,"s":"HBoV1","v":31.2},{"p":3412,"s":"HBoV1","v":60.4},{"p":3440,"s":"HBoV1","v":40.9},{"p":3467,"s":"HBoV1","v":24.8},{"p":3495,"s":"HBoV1","v":36.1},{"p":3532,"s":"HBoV1","v":68.4},{"p":3568,"s":"HBoV1","v":84.6},{"p":3605,"s":"HBoV1","v":94.3},{"p":3642,"s":"HBoV1","v":88},{"p":3678,"s":"HBoV1","v":76.5},{"p":3715,"s":"HBoV1","v":84.6},{"p":3734,"s":"HBoV1","v":70.1},{"p":3752,"s":"HBoV1","v":77.7},{"p":3788,"s":"HBoV1","v":62},{"p":3825,"s":"HBoV1","v":55.5},{"p":3862,"s":"HBoV1","v":40.9},{"p":3899,"s":"HBoV1","v":28},{"p":3936,"s":"HBoV1","v":18.3},{"p":3972,"s":"HBoV1","v":31.2},{"p":4009,"s":"HBoV1","v":24.8},{"p":4046,"s":"HBoV1","v":31.2},{"p":4083,"s":"HBoV1","v":24.8},{"p":4119,"s":"HBoV1","v":8.6},{"p":4156,"s":"HBoV1","v":5.3},{"p":4193,"s":"HBoV1","v":8.6},{"p":4224,"s":"HBoV1","v":18.3},
{"p":205,"s":"HBoV2","v":0},{"p":3570,"s":"HBoV2","v":0},{"p":3590,"s":"HBoV2","v":2.5},{"p":3610,"s":"HBoV2","v":0},{"p":4224,"s":"HBoV2","v":0},
{"p":205,"s":"HBoV4","v":0},{"p":3040,"s":"HBoV4","v":0},{"p":3060,"s":"HBoV4","v":1.5},{"p":3080,"s":"HBoV4","v":0},{"p":3640,"s":"HBoV4","v":0},{"p":3660,"s":"HBoV4","v":3},{"p":3680,"s":"HBoV4","v":0},{"p":3940,"s":"HBoV4","v":0},{"p":3950,"s":"HBoV4","v":2},{"p":3960,"s":"HBoV4","v":0},{"p":4224,"s":"HBoV4","v":0}]
},
"spacing":0,
"bounds":"flush",
"resolve":{"scale":{"x":"independent","y":"independent","color":"independent"},"legend":{"color":"independent"}},
"vconcat":[
{"width":1049,"height":89,
 "encoding":{"x":{"field":"p","type":"quantitative","scale":{"domain":[0,4437],"nice":false,"zero":false},"axis":null},
  "y":{"field":"lv","type":"quantitative","scale":{"domain":[0,4],"reverse":true,"nice":false,"zero":false},"axis":null}},
 "layer":[
  {"data":{"values":[{"p":14,"p2":2824,"lv":1.5},{"p":2880,"p2":4416,"lv":1.5}]},"mark":{"type":"rule","color":"#111","strokeWidth":2},"encoding":{"x2":{"field":"p2"}}},
  {"data":{"values":[{"p":14,"lv":1.5},{"p":2880,"lv":1.5}]},"mark":{"type":"point","shape":"M0,0L2,-0.6L2,0.6Z","filled":true,"size":289,"color":"#111","opacity":1}},
  {"data":{"values":[{"p":2824,"lv":1.5},{"p":4416,"lv":1.5}]},"mark":{"type":"point","shape":"M0,0L-2,-0.6L-2,0.6Z","filled":true,"size":289,"color":"#111","opacity":1}},
  {"data":{"values":[{"p":32,"p2":601,"lv":3},{"p":856,"p2":2747,"lv":3}]},"mark":{"type":"rule","color":"#8c8c8c","strokeWidth":2},"encoding":{"x2":{"field":"p2"}}},
  {"data":{"values":[{"p":32,"lv":3},{"p":856,"lv":3}]},"mark":{"type":"point","shape":"M0,0L2,-0.6L2,0.6Z","filled":true,"size":225,"color":"#8c8c8c","opacity":1}},
  {"data":{"values":[{"p":601,"lv":3},{"p":2747,"lv":3}]},"mark":{"type":"point","shape":"M0,0L-2,-0.6L-2,0.6Z","filled":true,"size":225,"color":"#8c8c8c","opacity":1}},
  {"data":{"values":[{"p":1328,"lv":0.9,"t":"5’ region"},{"p":3668,"lv":0.9,"t":"3’ region"}]},"mark":{"type":"text","fontSize":16,"color":"#111","baseline":"middle"},"encoding":{"text":{"field":"t"}}},
  {"data":{"values":[{"p":313,"lv":2.5,"t":"left-side"},{"p":1815,"lv":2.5,"t":"right-side"}]},"mark":{"type":"text","fontSize":16,"color":"#8c8c8c","baseline":"middle"},"encoding":{"text":{"field":"t"}}}
 ]},
{"width":1049,"height":218,
 "encoding":{"x":{"field":"p","type":"quantitative","scale":{"domain":[0,4437],"nice":false,"zero":false},
   "axis":{"values":[0,200,400,600,800,1000,1200,1400,1600,1800,2000,2200,2400,2600,2800,3000,3200,3400,3600,3800,4000,4200,4400],"labels":false,"title":null,"domainColor":"#000","domainWidth":4,"tickColor":"#999","tickSize":-4,"tickWidth":2,"zindex":1}}},
 "layer":[
  {"data":{"name":"bands"},"mark":{"type":"rect","color":"#ececec"},"encoding":{"x2":{"field":"p2"}}},
  {"data":{"name":"sim"},"mark":{"type":"line","interpolate":"step-after","strokeWidth":2},
   "encoding":{"y":{"field":"v","type":"quantitative","scale":{"domain":[0.497,1.001],"nice":false,"zero":false},
     "axis":{"values":[0.6,0.7,0.8,0.9,1.0],"format":".1f","title":"Similarity","titleX":-64,"titleY":109,"titleBaseline":"middle","domain":false,"tickSize":5,"tickColor":"#555","labelPadding":2.5}},
    "color":{"field":"s","type":"nominal","scale":{"domain":["GBoV","CPZh2-BoV","HBoV1","HBoV2","HBoV4"],"range":["#cfc800","#0b800b","#ff0000","#0000ff","#00cccc"]},
     "legend":{"orient":"none","legendX":1060,"legendY":147,"title":null,"symbolType":"stroke","symbolStrokeWidth":4,"symbolSize":441,"labelFontSize":18,"labelColor":"#111","rowPadding":0.5,"padding":7,"strokeColor":"#000","fillColor":"#fff","labelOffset":5}}}},
  {"data":{"name":"minorA"},"mark":{"type":"tick","orient":"horizontal","size":5,"thickness":1,"xOffset":-2.5,"color":"#555"},"encoding":{"x":{"datum":0,"type":"quantitative"},"y":{"field":"v","type":"quantitative"}}},
  {"data":{"values":[{"p":4514,"p2":5114,"v":0.645,"v2":0.347}]},"mark":{"type":"rect","color":"#000"},"encoding":{"x2":{"field":"p2"},"y":{"field":"v","type":"quantitative"},"y2":{"field":"v2"}}},
  {"data":{"values":[{"p":4505,"v":0.6935,"t":"Query: HBoV3"}]},"mark":{"type":"text","align":"left","baseline":"middle","fontSize":18,"color":"#111"},"encoding":{"y":{"field":"v","type":"quantitative"},"text":{"field":"t"}}},
  {"data":{"values":[{"p":-307,"v":0.999,"t":"a"}]},"mark":{"type":"text","align":"left","baseline":"middle","fontSize":25,"fontWeight":"bold","color":"#000"},"encoding":{"y":{"field":"v","type":"quantitative"},"text":{"field":"t"}}},
  {"data":{"name":"frame"},"mark":{"type":"rect","filled":false,"color":"#000","strokeWidth":2},"encoding":{"x2":{"field":"p2"}}}
 ]},
{"width":1049,"height":217,
 "encoding":{"x":{"field":"p","type":"quantitative","scale":{"domain":[0,4437],"nice":false,"zero":false},
   "axis":{"values":[0,200,400,600,800,1000,1200,1400,1600,1800,2000,2200,2400,2600,2800,3000,3200,3400,3600,3800,4000,4200,4400],"labelExpr":"datum.value % 400 === 0 ? format(datum.value, ',') : ''","labelOverlap":false,"title":"Position(nt)","titleX":1070,"titleY":1,"titleAlign":"left","titleBaseline":"middle","domainColor":"#000","domainWidth":5,"tickColor":"#777","tickSize":6,"tickWidth":1.5,"labelPadding":6,"zindex":1}}},
 "layer":[
  {"data":{"name":"bands"},"mark":{"type":"rect","color":"#ececec"},"encoding":{"x2":{"field":"p2"}}},
  {"data":{"values":[{"t":1,"v":-4.27,"p":20,"p2":563},{"t":1,"v":-38.5,"p":596,"p2":605},{"t":2,"v":-4.27,"p":981,"p2":2750},{"t":2,"v":-38.5,"p":2331,"p2":2339},{"t":3,"v":-4.27,"p":3088,"p2":4442},{"t":3,"v":-38.5,"p":4340,"p2":4349}]},
   "mark":{"type":"area","orient":"horizontal","color":"#ececec"},"encoding":{"x2":{"field":"p2"},"y":{"field":"v","type":"quantitative"},"detail":{"field":"t"}}},
  {"data":{"values":[{"p":0,"p2":4437,"v":70}]},"mark":{"type":"rule","color":"#999","strokeDash":[4,3],"strokeWidth":1},"encoding":{"x2":{"field":"p2"},"y":{"field":"v","type":"quantitative"}}},
  {"data":{"name":"ptb"},"mark":{"type":"line","strokeWidth":2},
   "encoding":{"y":{"field":"v","type":"quantitative","scale":{"domain":[-2.8,103.4],"nice":false,"zero":false},
     "axis":{"values":[0,20,40,60,80,100],"format":"d","title":"% of Permuted Trees","titleX":-58,"titleY":125,"titleBaseline":"middle","domain":false,"tickSize":5,"tickColor":"#555","labelPadding":2.5}},
    "color":{"field":"s","type":"nominal","scale":{"domain":["GBoV","CPZh2-BoV","HBoV1","HBoV2","HBoV4"],"range":["#cfc800","#0b800b","#ff0000","#0000ff","#00cccc"]},"legend":null}}},
  {"data":{"name":"minorP"},"mark":{"type":"tick","orient":"horizontal","size":5,"thickness":1,"xOffset":-2.5,"color":"#555"},"encoding":{"x":{"datum":0,"type":"quantitative"},"y":{"field":"v","type":"quantitative"}}},
  {"data":{"values":[{"p":-307,"v":103.9,"t":"b"}]},"mark":{"type":"text","align":"left","baseline":"middle","fontSize":25,"fontWeight":"bold","color":"#000"},"encoding":{"y":{"field":"v","type":"quantitative"},"text":{"field":"t"}}},
  {"data":{"name":"frame"},"mark":{"type":"rect","filled":false,"color":"#000","strokeWidth":2},"encoding":{"x2":{"field":"p2"}}}
 ]},
{"width":1238,"height":548,
 "resolve":{"scale":{"x":"independent","y":"independent"}},
 "layer":[
 {"encoding":{"x":{"field":"x","type":"quantitative","scale":{"domain":[0.02759,8.5655],"nice":false,"zero":false},"axis":null},
   "y":{"field":"y","type":"quantitative","scale":{"domain":[-4.0,20.3556],"reverse":true,"nice":false,"zero":false},"axis":null}},
  "layer":[
   {"data":{"values":[{"x":-0.262,"x2":0.662,"y":11.02,"y2":19.51}]},"mark":{"type":"rect","color":"#ebebeb"},"encoding":{"x2":{"field":"x2"},"y2":{"field":"y2"}}},
   {"data":{"values":[{"x":0.317,"y":14.71,"x2":0.097,"y2":11.47},{"x":0,"y":11.38,"x2":0.097,"y2":11.47},{"x":0.317,"y":14.71,"x2":0.607,"y2":14.62},{"x":0.317,"y":14.71,"x2":0.124,"y2":16.4},{"x":0.124,"y":16.4,"x2":-0.207,"y2":17.96},{"x":0.124,"y":16.4,"x2":0.303,"y2":19.24},{"x":-0.152,"y":13.42,"x2":-0.152,"y2":15.82}]},"mark":{"type":"rule","color":"#111","strokeWidth":1.6},"encoding":{"x2":{"field":"x2"},"y2":{"field":"y2"}}},
   {"data":{"values":[{"x":0,"y":11.38,"g":"HBoV3"},{"x":0.097,"y":11.47,"g":"HBoV3"},{"x":0.607,"y":14.62,"g":"HBoV1"},{"x":-0.207,"y":17.96,"g":"CPZh2"},{"x":0.303,"y":19.24,"g":"GBoV"}]},"mark":{"type":"point","filled":true,"size":100,"opacity":1},"encoding":{"color":{"field":"g","type":"nominal","scale":{"domain":["HBoV4","HBoV2","GBoV","CPZh2","HBoV3","HBoV1"],"range":["#1fb5b5","#1010f0","#c9c010","#18a018","#111111","#e01818"]},"legend":null}}},
   {"data":{"values":[{"x":0.214,"y":12.93,"t":"100"}]},"mark":{"type":"text","fontSize":8.5,"angle":62,"color":"#333"},"encoding":{"text":{"field":"t"}}},
   {"data":{"values":[{"x":0.455,"y":14.2,"t":"100"}]},"mark":{"type":"text","fontSize":8.5,"color":"#333"},"encoding":{"text":{"field":"t"}}},
   {"data":{"values":[{"x":0.179,"y":15.47,"t":"98"}]},"mark":{"type":"text","fontSize":8.5,"angle":-57,"color":"#333"},"encoding":{"text":{"field":"t"}}},
   {"data":{"values":[{"x":-0.117,"y":14.62,"t":"0.1"}]},"mark":{"type":"text","fontSize":8.5,"angle":90,"color":"#333"},"encoding":{"text":{"field":"t"}}},
   {"data":{"values":[{"x":0,"x2":0.786,"y":4.58},{"x":0.786,"x2":0.828,"y":2.1},{"x":0.828,"x2":0.897,"y":0.95},{"x":0.897,"x2":0.917,"y":0},{"x":0.897,"x2":0.917,"y":1},{"x":0.897,"x2":0.917,"y":2},{"x":0.828,"x2":0.862,"y":3},{"x":0.786,"x2":0.855,"y":7.5},{"x":0.855,"x2":0.869,"y":4},{"x":0.855,"x2":0.869,"y":5},{"x":0.855,"x2":0.869,"y":6},{"x":0.855,"x2":0.869,"y":7},{"x":0.855,"x2":0.869,"y":8},{"x":0,"x2":0.759,"y":10.44},{"x":0.759,"x2":0.848,"y":9},{"x":0.759,"x2":0.821,"y":11.91},{"x":0.821,"x2":0.959,"y":10},{"x":0.821,"x2":0.924,"y":13.82},{"x":0.924,"x2":1.097,"y":11.87},{"x":1.097,"x2":1.117,"y":11},{"x":1.097,"x2":1.117,"y":12},{"x":1.097,"x2":1.117,"y":13},{"x":1.097,"x2":1.117,"y":14},{"x":0.924,"x2":1.014,"y":15.87},{"x":1.014,"x2":1.03,"y":15},{"x":1.014,"x2":1.03,"y":16},{"x":1.014,"x2":1.03,"y":17},{"x":1.014,"x2":1.03,"y":18}]},"mark":{"type":"rule","color":"#111","strokeWidth":1.5},"encoding":{"x2":{"field":"x2"}}},
   {"data":{"values":[{"x":0,"y":4.58,"y2":10.44},{"x":0.786,"y":2.1,"y2":7.5},{"x":0.828,"y":0.95,"y2":3},{"x":0.897,"y":0,"y2":2},{"x":0.855,"y":4,"y2":8},{"x":0.759,"y":9,"y2":11.91},{"x":0.821,"y":10,"y2":13.82},{"x":0.924,"y":11.87,"y2":15.87},{"x":1.097,"y":11,"y2":14},{"x":1.014,"y":15,"y2":18}]},"mark":{"type":"rule","color":"#111","strokeWidth":1.5},"encoding":{"y2":{"field":"y2"}}},
   {"data":{"values":[{"x":0.959,"y":0,"t":"KJ649741 | RUS_NSC_11-N2655","g":"HBoV4"},{"x":0.979,"y":1,"t":"KJ649742 | RUS_NSC_11-N2657","g":"HBoV4"},{"x":0.972,"y":2,"t":"FJ973561 | NI-385","g":"HBoV4"},{"x":0.924,"y":3,"t":"KM624027 | LZFB086","g":"HBoV4"},{"x":0.924,"y":4,"t":"GU048663 | CU54TH","g":"HBoV2"},{"x":0.924,"y":5,"t":"FJ973560 | NI-213","g":"HBoV2"},{"x":0.917,"y":6,"t":"FJ973558 | TU-A-114-06","g":"HBoV2"},{"x":0.91,"y":7,"t":"FJ948860 | W298","g":"HBoV2"},{"x":0.903,"y":8,"t":"FJ170280 | UK-648","g":"HBoV2"},{"x":0.897,"y":9,"t":"HM145750 | GBoV1/2009","g":"GBoV"},{"x":1.0,"y":10,"t":"KT223502 | CPZh2","g":"CPZh2"},{"x":1.172,"y":11,"t":"GQ867666 | MC8","g":"HBoV3"},{"x":1.159,"y":12,"t":"HM132056 | 46-BJ07","g":"HBoV3"},{"x":1.152,"y":13,"t":"GU048665 | CU2139UK","g":"HBoV3"},{"x":1.152,"y":14,"t":"EU918736 | W471","g":"HBoV3"},{"x":1.062,"y":15,"t":"EU984244 | TW674_07","g":"HBoV1"},{"x":1.076,"y":16,"t":"FJ496754 | WH","g":"HBoV1"},{"x":1.076,"y":17,"t":"DQ988934 | BJ3722","g":"HBoV1"},{"x":1.076,"y":18,"t":"GQ455988 | FZ1","g":"HBoV1"}]},
    "mark":{"type":"text","align":"left","baseline":"middle","fontSize":11.5,"fontWeight":"bold"},"encoding":{"text":{"field":"t"},"color":{"field":"g","type":"nominal","scale":{"domain":["HBoV4","HBoV2","GBoV","CPZh2","HBoV3","HBoV1"],"range":["#1fb5b5","#1010f0","#c9c010","#18a018","#111111","#e01818"]},"legend":null}}},
   {"data":{"values":[{"x":0.883,"y":0.93,"t":"95"},{"x":0.821,"y":1.82,"t":"81"},{"x":0.821,"y":7.38,"t":"74"},{"x":0.717,"y":10.13,"t":"100"},{"x":0.8,"y":12.27,"t":"48"},{"x":1.062,"y":12.22,"t":"97"},{"x":0.91,"y":14.27,"t":"59"},{"x":0.986,"y":16.31,"t":"99"}]},"mark":{"type":"text","align":"right","baseline":"middle","fontSize":11,"color":"#111"},"encoding":{"text":{"field":"t"}}},
   {"data":{"values":[{"x":2.248,"y":-0.22,"y2":3.07,"g":"HBoV4"},{"x":1.897,"y":3.82,"y2":8.09,"g":"HBoV2"},{"x":1.91,"y":8.71,"y2":9.33,"g":"GBoV"},{"x":1.779,"y":9.69,"y2":10.31,"g":"CPZh2"},{"x":2.103,"y":10.84,"y2":14.18,"g":"HBoV3"},{"x":1.959,"y":14.89,"y2":18.18,"g":"HBoV1"}]},"mark":{"type":"rule","strokeWidth":6},"encoding":{"y2":{"field":"y2"},"color":{"field":"g","type":"nominal","scale":{"domain":["HBoV4","HBoV2","GBoV","CPZh2","HBoV3","HBoV1"],"range":["#1fb5b5","#1010f0","#c9c010","#18a018","#111111","#e01818"]},"legend":null}}},
   {"data":{"values":[{"x":2.297,"y":1.3,"t":"HBoV4","g":"HBoV4"},{"x":1.945,"y":6.04,"t":"HBoV2","g":"HBoV2"},{"x":1.959,"y":9.02,"t":"GBoV","g":"GBoV"},{"x":1.828,"y":10,"t":"CPZh2-BoV","g":"CPZh2"},{"x":2.152,"y":12.53,"t":"HBoV3","g":"HBoV3"},{"x":2.014,"y":16.58,"t":"HBoV1","g":"HBoV1"}]},"mark":{"type":"text","align":"left","baseline":"middle","fontSize":11.5,"fontWeight":"bold"},"encoding":{"text":{"field":"t"},"color":{"field":"g","type":"nominal","scale":{"domain":["HBoV4","HBoV2","GBoV","CPZh2","HBoV3","HBoV1"],"range":["#1fb5b5","#1010f0","#c9c010","#18a018","#111111","#e01818"]},"legend":null}}},
   {"data":{"values":[{"x":0.034,"x2":0.234,"y":4.13}]},"mark":{"type":"rule","color":"#111","strokeWidth":1.6},"encoding":{"x2":{"field":"x2"}}},
   {"data":{"values":[{"x":0.131,"y":3.69,"t":"0.2"}]},"mark":{"type":"text","baseline":"middle","fontSize":11,"color":"#111"},"encoding":{"text":{"field":"t"}}},
   {"data":{"values":[{"x":-0.221,"y":0.09,"t":"c"}]},"mark":{"type":"text","align":"left","baseline":"middle","fontSize":25,"fontWeight":"bold","color":"#000"},"encoding":{"text":{"field":"t"}}},
   {"data":{"values":[{"x":0.862,"y":10.18,"o":1},{"x":0.917,"y":11.2,"o":2}]},"mark":{"type":"line","color":"#22a022","strokeWidth":3},"encoding":{"order":{"field":"o"}}},
   {"data":{"values":[{"x":0.924,"y":11.33}]},"mark":{"type":"point","shape":"triangle","angle":161,"filled":true,"size":90,"color":"#22a022","opacity":1}},
   {"data":{"values":[{"x":1.062,"y":11.6,"o":1},{"x":1.055,"y":10.93,"o":2},{"x":1.028,"y":10.58,"o":3},{"x":0.986,"y":10.4,"o":4}]},"mark":{"type":"line","color":"#111","strokeWidth":3,"interpolate":"basis"},"encoding":{"order":{"field":"o"}}},
   {"data":{"values":[{"x":0.972,"y":10.36}]},"mark":{"type":"point","shape":"triangle","angle":300,"filled":true,"size":90,"color":"#111","opacity":1}}
  ]},
 {"encoding":{"x":{"field":"x","type":"quantitative","scale":{"domain":[-1.70612,3.34694],"nice":false,"zero":false},"axis":null},
   "y":{"field":"y","type":"quantitative","scale":{"domain":[-3.7232,20.2803],"reverse":true,"nice":false,"zero":false},"axis":null}},
  "layer":[
   {"data":{"values":[{"x":-0.212,"x2":0.192,"y":11.39,"y2":19.54}]},"mark":{"type":"rect","color":"#ebebeb"},"encoding":{"x2":{"field":"x2"},"y2":{"field":"y2"}}},
   {"data":{"values":[{"x":0.061,"y":11.87,"x2":0.012,"y2":13.49},{"x":0.045,"y":11.83,"x2":0.082,"y2":11.78},{"x":0.012,"y":13.49,"x2":-0.098,"y2":13.1},{"x":0.012,"y":13.49,"x2":0.012,"y2":14.8},{"x":0.012,"y":14.8,"x2":-0.184,"y2":15.51},{"x":0.012,"y":14.8,"x2":0.139,"y2":18.97},{"x":-0.118,"y":16.34,"x2":-0.118,"y2":18.97}]},"mark":{"type":"rule","color":"#111","strokeWidth":1.6},"encoding":{"x2":{"field":"x2"},"y2":{"field":"y2"}}},
   {"data":{"values":[{"x":0.045,"y":11.83,"g":"HBoV3"},{"x":0.082,"y":11.78,"g":"HBoV3"},{"x":-0.098,"y":13.1,"g":"CPZh2"},{"x":-0.184,"y":15.51,"g":"GBoV"},{"x":0.139,"y":18.97,"g":"HBoV1"}]},"mark":{"type":"point","filled":true,"size":100,"opacity":1},"encoding":{"color":{"field":"g","type":"nominal","scale":{"domain":["HBoV4","HBoV2","GBoV","CPZh2","HBoV3","HBoV1"],"range":["#1fb5b5","#1010f0","#c9c010","#18a018","#111111","#e01818"]},"legend":null}}},
   {"data":{"values":[{"x":0.008,"y":12.44,"t":"100"},{"x":0.098,"y":16.91,"t":"100"}]},"mark":{"type":"text","fontSize":8.5,"angle":72,"color":"#333"},"encoding":{"text":{"field":"t"}}},
   {"data":{"values":[{"x":0.037,"y":14.15,"t":"100"},{"x":-0.094,"y":17.65,"t":"0.1"}]},"mark":{"type":"text","fontSize":8.5,"angle":90,"color":"#333"},"encoding":{"text":{"field":"t"}}},
   {"data":{"values":[{"x":0,"x2":0.616,"y":2.32},{"x":0.616,"x2":0.682,"y":0.74},{"x":0.682,"x2":0.714,"y":0},{"x":0.682,"x2":0.714,"y":1.45},{"x":0.714,"x2":0.73,"y":1},{"x":0.714,"x2":0.73,"y":2},{"x":0.616,"x2":0.645,"y":3.9},{"x":0.645,"x2":0.702,"y":3},{"x":0.645,"x2":0.755,"y":4.91},{"x":0.755,"x2":0.792,"y":4},{"x":0.755,"x2":0.776,"y":5.87},{"x":0.776,"x2":0.792,"y":5},{"x":0.776,"x2":0.792,"y":6},{"x":0.776,"x2":0.792,"y":7},{"x":0.776,"x2":0.792,"y":8},{"x":0,"x2":0.237,"y":11.17},{"x":0.237,"x2":0.339,"y":9},{"x":0.237,"x2":0.282,"y":13.36},{"x":0.282,"x2":0.359,"y":10.91},{"x":0.359,"x2":0.412,"y":10},{"x":0.359,"x2":0.449,"y":11.87},{"x":0.449,"x2":0.465,"y":11},{"x":0.449,"x2":0.465,"y":12},{"x":0.449,"x2":0.465,"y":13},{"x":0.449,"x2":0.465,"y":14},{"x":0.282,"x2":0.547,"y":15.86},{"x":0.547,"x2":0.555,"y":15},{"x":0.547,"x2":0.555,"y":16},{"x":0.547,"x2":0.555,"y":17},{"x":0.547,"x2":0.555,"y":18}]},"mark":{"type":"rule","color":"#111","strokeWidth":1.5},"encoding":{"x2":{"field":"x2"}}},
   {"data":{"values":[{"x":0,"y":2.32,"y2":11.17},{"x":0.616,"y":0.74,"y2":3.9},{"x":0.682,"y":0,"y2":1.45},{"x":0.714,"y":1,"y2":2},{"x":0.645,"y":3,"y2":4.91},{"x":0.755,"y":4,"y2":5.87},{"x":0.776,"y":5,"y2":8},{"x":0.237,"y":9,"y2":13.36},{"x":0.282,"y":10.91,"y2":15.86},{"x":0.359,"y":10,"y2":11.87},{"x":0.449,"y":11,"y2":14},{"x":0.547,"y":15,"y2":18}]},"mark":{"type":"rule","color":"#111","strokeWidth":1.5},"encoding":{"y2":{"field":"y2"}}},
   {"data":{"values":[{"x":0.739,"y":0,"t":"FJ973561 | NI-385","g":"HBoV4"},{"x":0.743,"y":1,"t":"KJ649742 | RUS_NSC_11-N2657","g":"HBoV4"},{"x":0.743,"y":2,"t":"KJ649741 | RUS_NSC_11-N2655","g":"HBoV4"},{"x":0.735,"y":3,"t":"KM624027 | LZFB086","g":"HBoV4"},{"x":0.82,"y":4,"t":"FJ973560 | NI-213","g":"HBoV2"},{"x":0.812,"y":5,"t":"FJ973558 | TU-A-114-06","g":"HBoV2"},{"x":0.82,"y":6,"t":"GU048663 | CU54TH","g":"HBoV2"},{"x":0.82,"y":7,"t":"FJ170280 | UK-648","g":"HBoV2"},{"x":0.824,"y":8,"t":"FJ948860 | W298","g":"HBoV2"},{"x":0.371,"y":9,"t":"HM145750 | GBoV1/2009","g":"GBoV"},{"x":0.473,"y":10,"t":"KT223502 | CPZh2","g":"CPZh2"},{"x":0.498,"y":11,"t":"GQ867666 | MC8","g":"HBoV3"},{"x":0.502,"y":12,"t":"EU918736 | W471","g":"HBoV3"},{"x":0.51,"y":13,"t":"HM132056 | 46-BJ07","g":"HBoV3"},{"x":0.502,"y":14,"t":"GU048665 | CU2139UK","g":"HBoV3"},{"x":0.584,"y":15,"t":"GQ455988 | FZ1","g":"HBoV1"},{"x":0.588,"y":16,"t":"DQ988934 | BJ3722","g":"HBoV1"},{"x":0.588,"y":17,"t":"EU984244 | TW674_07","g":"HBoV1"},{"x":0.588,"y":18,"t":"FJ496754 | WH","g":"HBoV1"}]},
    "mark":{"type":"text","align":"left","baseline":"middle","fontSize":11.5,"fontWeight":"bold"},"encoding":{"text":{"field":"t"},"color":{"field":"g","type":"nominal","scale":{"domain":["HBoV4","HBoV2","GBoV","CPZh2","HBoV3","HBoV1"],"range":["#1fb5b5","#1010f0","#c9c010","#18a018","#111111","#e01818"]},"legend":null}}},
   {"data":{"values":[{"x":0.669,"y":0.39,"t":"99"},{"x":0.637,"y":4.29,"t":"61"},{"x":0.739,"y":5.26,"t":"100"},{"x":0.22,"y":10.86,"t":"100"},{"x":0.347,"y":11.21,"t":"98"},{"x":0.441,"y":11.61,"t":"100"},{"x":0.269,"y":13.75,"t":"43"},{"x":0.535,"y":16.29,"t":"100"}]},"mark":{"type":"text","align":"right","baseline":"middle","fontSize":11,"color":"#111"},"encoding":{"text":{"field":"t"}}},
   {"data":{"values":[{"x":1.502,"y":-0.13,"y2":3.29,"g":"HBoV4"},{"x":1.376,"y":3.99,"y2":8.19,"g":"HBoV2"},{"x":0.963,"y":8.76,"y2":9.37,"g":"GBoV"},{"x":0.918,"y":9.72,"y2":10.38,"g":"CPZh2"},{"x":1.065,"y":10.91,"y2":14.15,"g":"HBoV3"},{"x":1.122,"y":14.89,"y2":18.13,"g":"HBoV1"}]},"mark":{"type":"rule","strokeWidth":6},"encoding":{"y2":{"field":"y2"},"color":{"field":"g","type":"nominal","scale":{"domain":["HBoV4","HBoV2","GBoV","CPZh2","HBoV3","HBoV1"],"range":["#1fb5b5","#1010f0","#c9c010","#18a018","#111111","#e01818"]},"legend":null}}},
   {"data":{"values":[{"x":1.535,"y":1.62,"t":"HBoV4","g":"HBoV4"},{"x":1.408,"y":6.18,"t":"HBoV2","g":"HBoV2"},{"x":0.996,"y":9.11,"t":"GBoV","g":"GBoV"},{"x":0.947,"y":10.07,"t":"CPZh2-BoV","g":"CPZh2"},{"x":1.098,"y":12.57,"t":"HBoV3","g":"HBoV3"},{"x":1.155,"y":16.47,"t":"HBoV1","g":"HBoV1"}]},"mark":{"type":"text","align":"left","baseline":"middle","fontSize":11.5,"fontWeight":"bold"},"encoding":{"text":{"field":"t"},"color":{"field":"g","type":"nominal","scale":{"domain":["HBoV4","HBoV2","GBoV","CPZh2","HBoV3","HBoV1"],"range":["#1fb5b5","#1010f0","#c9c010","#18a018","#111111","#e01818"]},"legend":null}}},
   {"data":{"values":[{"x":0.016,"x2":0.216,"y":1.75}]},"mark":{"type":"rule","color":"#111","strokeWidth":1.6},"encoding":{"x2":{"field":"x2"}}},
   {"data":{"values":[{"x":0.114,"y":1.4,"t":"0.2"}]},"mark":{"type":"text","baseline":"middle","fontSize":11,"color":"#111"},"encoding":{"text":{"field":"t"}}},
   {"data":{"values":[{"x":-0.106,"y":0.26,"t":"d"}]},"mark":{"type":"text","align":"left","baseline":"middle","fontSize":25,"fontWeight":"bold","color":"#000"},"encoding":{"text":{"field":"t"}}},
   {"data":{"values":[{"x":0.408,"y":9.94,"o":1},{"x":0.355,"y":9.77,"o":2},{"x":0.314,"y":9.42,"o":3}]},"mark":{"type":"line","color":"#22a022","strokeWidth":4,"interpolate":"basis"},"encoding":{"order":{"field":"o"}}},
   {"data":{"values":[{"x":0.302,"y":9.2}]},"mark":{"type":"point","shape":"triangle","angle":329,"filled":true,"size":130,"color":"#22a022","opacity":1}},
   {"data":{"values":[{"x":0.404,"y":12.18,"o":1},{"x":0.392,"y":13.18,"o":2},{"x":0.408,"y":14.28,"o":3},{"x":0.445,"y":15.16,"o":4}]},"mark":{"type":"line","color":"#111","strokeWidth":5,"interpolate":"basis"},"encoding":{"order":{"field":"o"}}},
   {"data":{"values":[{"x":0.49,"y":15.64}]},"mark":{"type":"point","shape":"triangle","angle":135,"filled":true,"size":180,"color":"#111","opacity":1}}
  ]},
 {"encoding":{"x":{"field":"x","type":"quantitative","scale":{"domain":[-1.9561,1.06341],"nice":false,"zero":false},"axis":null},
   "y":{"field":"y","type":"quantitative","scale":{"domain":[-3.7281,20.307],"reverse":true,"nice":false,"zero":false},"axis":null}},
  "layer":[
   {"data":{"values":[{"x":0,"x2":0.244,"y":7.89},{"x":0.244,"x2":0.266,"y":4.12},{"x":0.266,"x2":0.398,"y":2.11},{"x":0.398,"x2":0.424,"y":1.27},{"x":0.424,"x2":0.454,"y":0.53},{"x":0.454,"x2":0.461,"y":0},{"x":0.454,"x2":0.468,"y":1},{"x":0.424,"x2":0.429,"y":2},{"x":0.398,"x2":0.424,"y":3},{"x":0.266,"x2":0.388,"y":6.1},{"x":0.388,"x2":0.412,"y":7},{"x":0.388,"x2":0.395,"y":5.18},{"x":0.395,"x2":0.402,"y":4},{"x":0.395,"x2":0.402,"y":5},{"x":0.395,"x2":0.402,"y":6},{"x":0.244,"x2":0.341,"y":11.1},{"x":0.341,"x2":0.385,"y":12},{"x":0.341,"x2":0.363,"y":10.18},{"x":0.363,"x2":0.393,"y":11},{"x":0.363,"x2":0.402,"y":9.3},{"x":0.402,"x2":0.412,"y":8},{"x":0.402,"x2":0.432,"y":9},{"x":0.402,"x2":0.412,"y":10},{"x":0,"x2":0.068,"y":14.34},{"x":0.068,"x2":0.273,"y":13},{"x":0.068,"x2":0.132,"y":15.61},{"x":0.132,"x2":0.315,"y":14},{"x":0.132,"x2":0.388,"y":17.15},{"x":0.388,"x2":0.395,"y":15},{"x":0.388,"x2":0.395,"y":16},{"x":0.388,"x2":0.395,"y":17},{"x":0.388,"x2":0.395,"y":18}]},"mark":{"type":"rule","color":"#111","strokeWidth":1.5},"encoding":{"x2":{"field":"x2"}}},
   {"data":{"values":[{"x":0,"y":7.89,"y2":14.34},{"x":0.244,"y":4.12,"y2":11.1},{"x":0.266,"y":2.11,"y2":6.1},{"x":0.398,"y":1.27,"y2":3},{"x":0.424,"y":0.53,"y2":2},{"x":0.454,"y":0,"y2":1},{"x":0.388,"y":5.18,"y2":7},{"x":0.395,"y":4,"y2":6},{"x":0.341,"y":10.18,"y2":12},{"x":0.363,"y":9.3,"y2":11},{"x":0.402,"y":8,"y2":10},{"x":0.068,"y":13,"y2":15.61},{"x":0.132,"y":14,"y2":17.15},{"x":0.388,"y":15,"y2":18}]},"mark":{"type":"rule","color":"#111","strokeWidth":1.5},"encoding":{"y2":{"field":"y2"}}},
   {"data":{"values":[{"x":0.48,"y":0,"t":"KJ649742 | RUS_NSC_11-N2657","g":"HBoV4"},{"x":0.485,"y":1,"t":"KM624027 | LZFB086","g":"HBoV4"},{"x":0.446,"y":2,"t":"KJ649741 | RUS_NSC_11-N2655","g":"HBoV4"},{"x":0.444,"y":3,"t":"FJ973561 | NI-385","g":"HBoV4"},{"x":0.424,"y":4,"t":"GU048665 | CU2139UK","g":"HBoV3"},{"x":0.422,"y":5,"t":"EU918736 | W471","g":"HBoV3"},{"x":0.422,"y":6,"t":"HM132056 | 46-BJ07","g":"HBoV3"},{"x":0.432,"y":7,"t":"GQ867666 | MC8","g":"HBoV3"},{"x":0.432,"y":8,"t":"FJ170280 | UK-648","g":"HBoV2"},{"x":0.446,"y":9,"t":"FJ973558 | TU-A-114-06","g":"HBoV2"},{"x":0.432,"y":10,"t":"FJ948860 | W298","g":"HBoV2"},{"x":0.41,"y":11,"t":"GU048663 | CU54TH","g":"HBoV2"},{"x":0.405,"y":12,"t":"FJ973560 | NI-213","g":"HBoV2"},{"x":0.293,"y":13,"t":"KT223502 | CPZh2","g":"CPZh2"},{"x":0.334,"y":14,"t":"HM145750 | GBoV1/2009","g":"GBoV"},{"x":0.42,"y":15,"t":"EU984244 | TW674_07","g":"HBoV1"},{"x":0.412,"y":16,"t":"FJ496754 | WH","g":"HBoV1"},{"x":0.415,"y":17,"t":"DQ988934 | BJ3722","g":"HBoV1"},{"x":0.41,"y":18,"t":"GQ455988 | FZ1","g":"HBoV1"}]},
    "mark":{"type":"text","align":"left","baseline":"middle","fontSize":11.5,"fontWeight":"bold"},"encoding":{"text":{"field":"t"},"color":{"field":"g","type":"nominal","scale":{"domain":["HBoV4","HBoV2","GBoV","CPZh2","HBoV3","HBoV1"],"range":["#1fb5b5","#1010f0","#c9c010","#18a018","#111111","#e01818"]},"legend":null}}},
   {"data":{"values":[{"x":0.444,"y":0.18,"t":"99"},{"x":0.42,"y":0.92,"t":"87"},{"x":0.395,"y":1.8,"t":"100"},{"x":0.259,"y":3.77,"t":"57"},{"x":0.383,"y":5.79,"t":"100"},{"x":0.395,"y":8.95,"t":"100"},{"x":0.354,"y":9.82,"t":"58"},{"x":0.334,"y":10.79,"t":"100"},{"x":0.056,"y":13.99,"t":"100"},{"x":0.127,"y":15.31,"t":"95"},{"x":0.385,"y":16.84,"t":"100"}]},"mark":{"type":"text","align":"right","baseline":"middle","fontSize":11,"color":"#111"},"encoding":{"text":{"field":"t"}}},
   {"data":{"values":[{"x":0.932,"y":-0.13,"y2":3.29,"g":"HBoV4"},{"x":0.759,"y":3.82,"y2":7.06,"g":"HBoV3"},{"x":0.79,"y":7.89,"y2":12.15,"g":"HBoV2"},{"x":0.563,"y":12.76,"y2":13.38,"g":"CPZh2"},{"x":0.685,"y":13.77,"y2":14.39,"g":"GBoV"},{"x":0.737,"y":14.91,"y2":18.2,"g":"HBoV1"}]},"mark":{"type":"rule","strokeWidth":6},"encoding":{"y2":{"field":"y2"},"color":{"field":"g","type":"nominal","scale":{"domain":["HBoV4","HBoV2","GBoV","CPZh2","HBoV3","HBoV1"],"range":["#1fb5b5","#1010f0","#c9c010","#18a018","#111111","#e01818"]},"legend":null}}},
   {"data":{"values":[{"x":0.949,"y":1.62,"t":"HBoV4","g":"HBoV4"},{"x":0.776,"y":5.48,"t":"HBoV3","g":"HBoV3"},{"x":0.807,"y":10.09,"t":"HBoV2","g":"HBoV2"},{"x":0.58,"y":13.11,"t":"CPZh2-BoV","g":"CPZh2"},{"x":0.702,"y":14.08,"t":"GBoV","g":"GBoV"},{"x":0.754,"y":16.54,"t":"HBoV1","g":"HBoV1"}]},"mark":{"type":"text","align":"left","baseline":"middle","fontSize":11.5,"fontWeight":"bold"},"encoding":{"text":{"field":"t"},"color":{"field":"g","type":"nominal","scale":{"domain":["HBoV4","HBoV2","GBoV","CPZh2","HBoV3","HBoV1"],"range":["#1fb5b5","#1010f0","#c9c010","#18a018","#111111","#e01818"]},"legend":null}}},
   {"data":{"values":[{"x":0.022,"x2":0.222,"y":7.28}]},"mark":{"type":"rule","color":"#111","strokeWidth":1.6},"encoding":{"x2":{"field":"x2"}}},
   {"data":{"values":[{"x":0.122,"y":6.93,"t":"0.2"}]},"mark":{"type":"text","baseline":"middle","fontSize":11,"color":"#111"},"encoding":{"text":{"field":"t"}}},
   {"data":{"values":[{"x":0.144,"y":0.31,"t":"e"}]},"mark":{"type":"text","align":"left","baseline":"middle","fontSize":25,"fontWeight":"bold","color":"#000"},"encoding":{"text":{"field":"t"}}}
  ]}
 ]},
{"width":1049,"height":216,
 "encoding":{"x":{"field":"p","type":"quantitative","scale":{"domain":[0,4437],"nice":false,"zero":false},
   "axis":{"values":[0,200,400,600,800,1000,1200,1400,1600,1800,2000,2200,2400,2600,2800,3000,3200,3400,3600,3800,4000,4200,4400],"labelExpr":"datum.value % 400 === 0 ? format(datum.value, ',') : ''","labelOverlap":false,"title":"Position(nt)","titleX":1070,"titleY":3,"titleAlign":"left","titleBaseline":"middle","domainColor":"#000","domainWidth":5,"tickColor":"#777","tickSize":6,"tickWidth":1.5,"labelPadding":8,"zindex":1}}},
 "layer":[
  {"data":{"name":"bands"},"mark":{"type":"rect","color":"#ececec"},"encoding":{"x2":{"field":"p2"}}},
  {"data":{"values":[{"p":0,"p2":4437,"v":70}]},"mark":{"type":"rule","color":"#999","strokeDash":[4,3],"strokeWidth":1},"encoding":{"x2":{"field":"p2"},"y":{"field":"v","type":"quantitative"}}},
  {"data":{"name":"ptf"},"mark":{"type":"line","strokeWidth":2},
   "encoding":{"y":{"field":"v","type":"quantitative","scale":{"domain":[-1.94,102.9],"nice":false,"zero":false},
     "axis":{"values":[0,20,40,60,80,100],"format":"d","title":"% of Permuted Trees","titleX":-57,"titleY":127,"titleBaseline":"middle","domain":false,"tickSize":5,"tickColor":"#555","labelPadding":2.5}},
    "color":{"field":"s","type":"nominal","scale":{"domain":["GBoV","HBoV3","HBoV1","HBoV2","HBoV4"],"range":["#cfc800","#808080","#ff0000","#0000ff","#00cccc"]},
     "legend":{"orient":"none","legendX":1060,"legendY":55,"title":null,"symbolType":"stroke","symbolStrokeWidth":4,"symbolSize":441,"labelFontSize":18,"labelColor":"#111","rowPadding":0.5,"padding":7,"strokeColor":"#000","fillColor":"#fff","labelOffset":5}}}},
  {"data":{"name":"minorP"},"mark":{"type":"tick","orient":"horizontal","size":5,"thickness":1,"xOffset":-2.5,"color":"#555"},"encoding":{"x":{"datum":0,"type":"quantitative"},"y":{"field":"v","type":"quantitative"}}},
  {"data":{"values":[{"p":4514,"p2":4958,"v":72.8,"v2":11.2}]},"mark":{"type":"rect","color":"#000"},"encoding":{"x2":{"field":"p2"},"y":{"field":"v","type":"quantitative"},"y2":{"field":"v2"}}},
  {"data":{"values":[{"p":4488,"v":83,"t":"Query: CPZh2-BoV"}]},"mark":{"type":"text","align":"left","baseline":"middle","fontSize":18,"color":"#111"},"encoding":{"y":{"field":"v","type":"quantitative"},"text":{"field":"t"}}},
  {"data":{"values":[{"p":-307,"v":102.9,"t":"f"}]},"mark":{"type":"text","align":"left","baseline":"middle","fontSize":25,"fontWeight":"bold","color":"#000"},"encoding":{"y":{"field":"v","type":"quantitative"},"text":{"field":"t"}}},
  {"data":{"name":"frame"},"mark":{"type":"rect","filled":false,"color":"#000","strokeWidth":2},"encoding":{"x2":{"field":"p2"}}}
 ]}
]
}
